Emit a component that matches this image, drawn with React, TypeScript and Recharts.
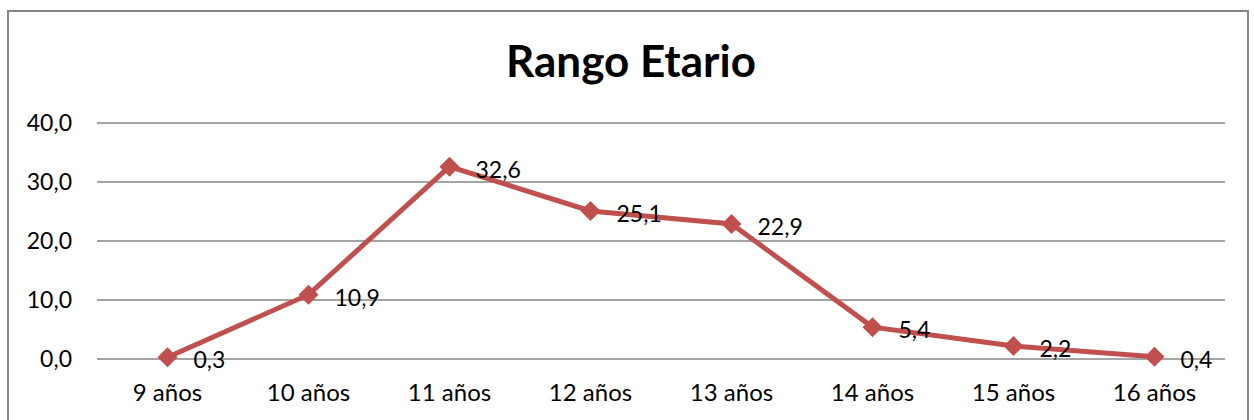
import React from 'react';
import { LineChart, Line, XAxis, YAxis, CartesianGrid, LabelList } from 'recharts';

const edades = ['9 años', '10 años', '11 años', '12 años', '13 años', '14 años', '15 años', '16 años'];
const porcentajes = [0.3, 10.9, 32.6, 25.1, 22.9, 5.4, 2.2, 0.4];
const yTicks = [0, 10, 20, 30, 40];

const data = edades.map((edad, i) => ({ edad, valor: porcentajes[i] }));

const fmt = (v: number) => v.toFixed(1).replace('.', ',');
const FONT = 'Lato, "Open Sans", sans-serif';
const RED = '#C0504D';

const Diamond = (props: any) => {
  const { cx, cy } = props;
  if (cx == null || cy == null) return null;
  const r = 10;
  return <path d={`M${cx},${cy - r}L${cx + r},${cy}L${cx},${cy + r}L${cx - r},${cy}Z`} fill={RED} />;
};

const ValueLabel = (props: any) => {
  const { x, y, value } = props;
  return (
    <text x={x + 26} y={y + 2} dominantBaseline="central" textAnchor="start" fontSize={23} fontFamily={FONT} fill="#000">
      {fmt(value)}
    </text>
  );
};

export default function App() {
  return (
    <div style={{ position: 'absolute', left: 0, top: 0, width: 1254, height: 420, background: '#fff', overflow: 'hidden' }}>
      <div
        style={{
          position: 'absolute',
          left: 7,
          top: 10,
          width: 1242,
          height: 430,
          border: '2px solid #868686',
          boxSizing: 'border-box',
        }}
      />
      <div
        style={{
          position: 'absolute',
          left: 0,
          width: 1262,
          top: 38,
          textAlign: 'center',
          fontFamily: FONT,
          fontWeight: 700,
          fontSize: 44,
          lineHeight: 1,
          color: '#000',
        }}
      >
        Rango Etario
      </div>
      <div style={{ position: 'absolute', left: 0, top: 0 }}>
        <LineChart width={1254} height={420} data={data} margin={{ top: 123, right: 29, bottom: 31, left: 0 }}>
          <CartesianGrid vertical={false} stroke="#868686" strokeWidth={1.5} />
          <XAxis
            dataKey="edad"
            height={30}
            axisLine={false}
            tickLine={false}
            tickMargin={19}
            padding={{ left: 70.5, right: 70.5 }}
            tick={{ fontSize: 24, fontFamily: FONT, fill: '#000' }}
            interval={0}
          />
          <YAxis
            width={97}
            domain={[0, 40]}
            ticks={yTicks}
            axisLine={false}
            tickLine={false}
            tickMargin={19}
            tickFormatter={fmt}
            tick={{ fontSize: 23, fontFamily: FONT, fill: '#000' }}
          />
          <Line
            type="linear"
            dataKey="valor"
            stroke={RED}
            strokeWidth={5}
            dot={<Diamond />}
            activeDot={false}
            isAnimationActive={false}
          >
            <LabelList dataKey="valor" content={<ValueLabel />} />
          </Line>
        </LineChart>
      </div>
    </div>
  );
}
